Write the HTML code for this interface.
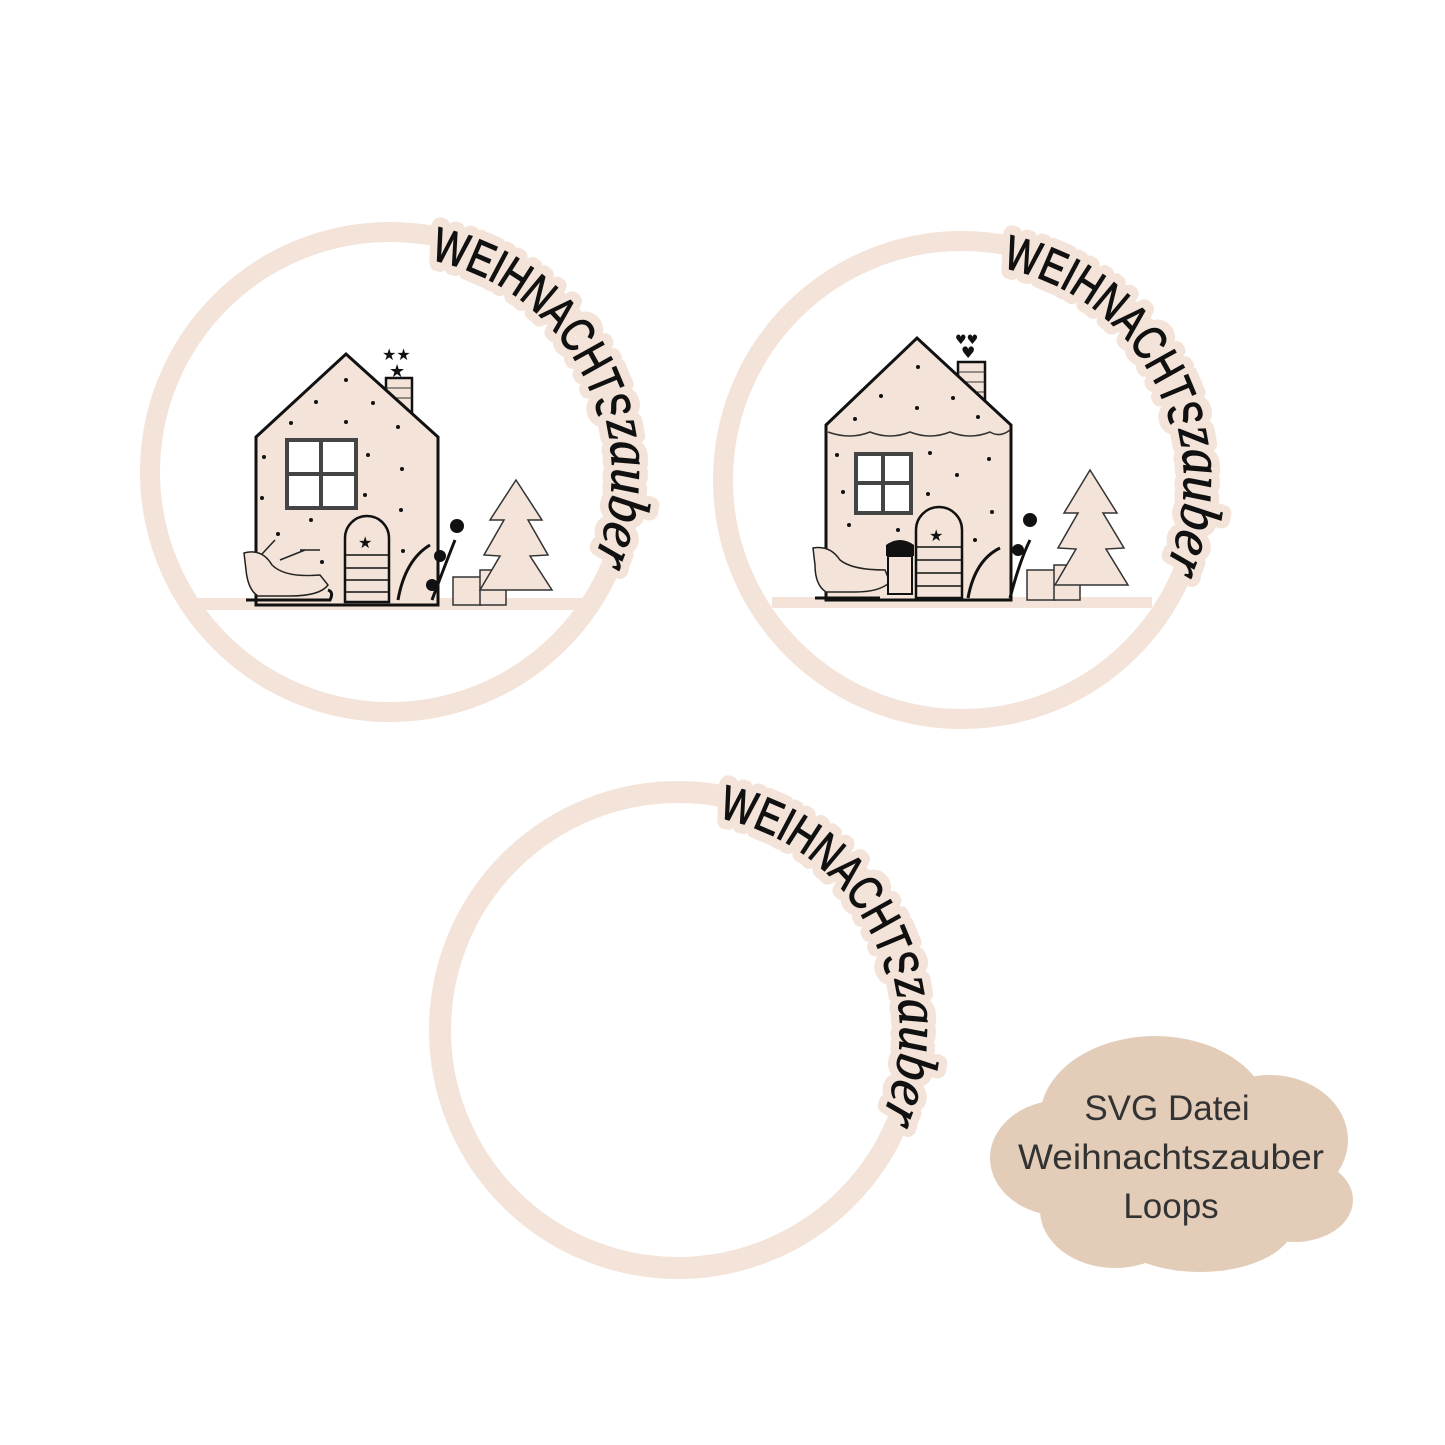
<!DOCTYPE html>
<html><head><meta charset="utf-8"><style>
html,body{margin:0;padding:0;background:#fff;}
svg{display:block;}
</style></head><body>
<svg width="1445" height="1445" viewBox="0 0 1445 1445" xmlns="http://www.w3.org/2000/svg">
<defs>
<path id="arc" d="M0,-216 A216,216 0 1 1 0,216 A216,216 0 1 1 0,-216"/>
<path id="arcz" d="M0,-222 A222,222 0 1 1 0,222 A222,222 0 1 1 0,-222"/>
<g id="label">
  <text font-family="Liberation Sans, sans-serif" font-size="48" fill="#111" stroke="#f3e3d8" stroke-width="20" stroke-linejoin="round" paint-order="stroke"><textPath href="#arc" startOffset="40" textLength="250" lengthAdjust="spacingAndGlyphs">WEIHNACHTS</textPath></text>
  <text font-family="Liberation Sans, sans-serif" font-size="48" fill="#111" stroke="#111" stroke-width="1.2"><textPath href="#arc" startOffset="40" textLength="250" lengthAdjust="spacingAndGlyphs">WEIHNACHTS</textPath></text>
  <text font-family="Liberation Serif, serif" font-style="italic" font-size="58" fill="#111" stroke="#f3e3d8" stroke-width="18" stroke-linejoin="round" paint-order="stroke"><textPath href="#arcz" startOffset="298" textLength="142" lengthAdjust="spacingAndGlyphs">zauber</textPath></text>
  <text font-family="Liberation Serif, serif" font-style="italic" font-size="58" fill="#111" stroke="#111" stroke-width="1"><textPath href="#arcz" startOffset="298" textLength="142" lengthAdjust="spacingAndGlyphs">zauber</textPath></text>
</g>
</defs>

<!-- Ring 1 -->
<circle cx="390" cy="472" r="240" fill="none" stroke="#f3e3d8" stroke-width="20"/>
<rect x="198" y="598" width="386" height="12" fill="#f3e3d8"/>
<rect x="386" y="378" width="26" height="40" fill="#f3e3d8" stroke="#111" stroke-width="2.5"/>
<line x1="386" y1="388" x2="412" y2="388" stroke="#333"/><line x1="386" y1="398" x2="412" y2="398" stroke="#333"/>
<path d="M256,437 L346,354 L438,437 L438,605 L256,605 Z" fill="#f3e3d8" stroke="#111" stroke-width="3"/>
<text x="382" y="360" font-size="16" fill="#111" font-family="DejaVu Sans">★★</text>
<text x="389" y="377" font-size="18" fill="#111" font-family="DejaVu Sans">★</text>
<rect x="287" y="440" width="69" height="68" fill="#fff" stroke="#444" stroke-width="4"/>
<line x1="321" y1="440" x2="321" y2="508" stroke="#444" stroke-width="4"/><line x1="287" y1="474" x2="356" y2="474" stroke="#444" stroke-width="4"/>
<path d="M345,602 L345,538 A22,22 0 0 1 389,538 L389,602 Z" fill="#f3e3d8" stroke="#111" stroke-width="2.5"/>
<g stroke="#111" stroke-width="1.5"><line x1="345" y1="555" x2="389" y2="555"/><line x1="345" y1="568" x2="389" y2="568"/><line x1="345" y1="580" x2="389" y2="580"/><line x1="345" y1="592" x2="389" y2="592"/></g>
<text x="358" y="548" font-size="16" fill="#111" font-family="DejaVu Sans">★</text>
<g fill="#111"><circle cx="346" cy="380" r="2"/><circle cx="316" cy="402" r="2"/><circle cx="373" cy="403" r="2"/><circle cx="291" cy="423" r="2"/><circle cx="346" cy="422" r="2"/><circle cx="398" cy="427" r="2"/><circle cx="264" cy="457" r="2"/><circle cx="368" cy="455" r="2"/><circle cx="402" cy="469" r="2"/><circle cx="262" cy="498" r="2"/><circle cx="365" cy="495" r="2"/><circle cx="401" cy="510" r="2"/><circle cx="311" cy="520" r="2"/><circle cx="278" cy="534" r="2"/><circle cx="322" cy="562" r="2"/><circle cx="403" cy="551" r="2"/></g>
<path d="M244,553 Q262,548 272,565 Q285,578 320,575 L328,585 Q320,596 290,596 L258,596 Q248,590 246,570 Z" fill="#f3e3d8" stroke="#222" stroke-width="1.5"/>
<path d="M246,600 L330,600 Q334,592 328,590" fill="none" stroke="#111" stroke-width="3"/>
<path d="M262,554 L275,540 M300,550 L320,550 M280,560 L305,550" stroke="#222" stroke-width="1.5"/>
<path d="M398,600 Q405,560 430,545 M432,600 Q445,565 455,540" fill="none" stroke="#111" stroke-width="3"/>
<circle cx="457" cy="526" r="7" fill="#111"/><circle cx="440" cy="556" r="6" fill="#111"/><circle cx="432" cy="585" r="6" fill="#111"/>
<rect x="453" y="577" width="28" height="28" fill="#f3e3d8" stroke="#333" stroke-width="1.5"/>
<rect x="480" y="570" width="26" height="35" fill="#f3e3d8" stroke="#333" stroke-width="1.5"/>
<path d="M516,480 L542,520 L528,520 L548,555 L530,556 L552,590 L480,590 L500,556 L484,555 L504,520 L490,520 Z" fill="#f3e3d8" stroke="#333" stroke-width="1.5"/>
<use href="#label" transform="translate(390,472)"/>

<!-- Ring 2 -->
<circle cx="962" cy="480" r="239" fill="none" stroke="#f3e3d8" stroke-width="20"/>
<rect x="772" y="597" width="380" height="11" fill="#f3e3d8"/>
<rect x="958" y="362" width="27" height="42" fill="#f3e3d8" stroke="#111" stroke-width="2.5"/>
<line x1="958" y1="372" x2="985" y2="372" stroke="#333"/><line x1="958" y1="382" x2="985" y2="382" stroke="#333"/><line x1="958" y1="392" x2="985" y2="392" stroke="#333"/>
<path d="M826,425 L917,338 L1011,425 L1011,600 L826,600 Z" fill="#f3e3d8" stroke="#111" stroke-width="3"/>
<text x="955" y="344" font-size="13" fill="#111" font-family="DejaVu Sans">♥♥</text>
<text x="961" y="358" font-size="16" fill="#111" font-family="DejaVu Sans">♥</text>
<path d="M828,432 Q850,440 870,432 Q890,440 910,432 Q930,440 950,432 Q970,440 990,432 Q1000,438 1010,430" fill="none" stroke="#333" stroke-width="1.5"/>
<rect x="856" y="454" width="55" height="59" fill="#fff" stroke="#444" stroke-width="4"/>
<line x1="883" y1="454" x2="883" y2="513" stroke="#444" stroke-width="4"/><line x1="856" y1="483" x2="911" y2="483" stroke="#444" stroke-width="4"/>
<path d="M916,598 L916,530 A23,23 0 0 1 962,530 L962,598 Z" fill="#f3e3d8" stroke="#111" stroke-width="2.5"/>
<g stroke="#111" stroke-width="1.5"><line x1="916" y1="547" x2="962" y2="547"/><line x1="916" y1="560" x2="962" y2="560"/><line x1="916" y1="573" x2="962" y2="573"/><line x1="916" y1="586" x2="962" y2="586"/></g>
<text x="929" y="541" font-size="16" fill="#111" font-family="DejaVu Sans">★</text>
<g fill="#111"><circle cx="918" cy="367" r="2"/><circle cx="881" cy="396" r="2"/><circle cx="953" cy="398" r="2"/><circle cx="917" cy="408" r="2"/><circle cx="855" cy="419" r="2"/><circle cx="978" cy="417" r="2"/><circle cx="837" cy="455" r="2"/><circle cx="930" cy="453" r="2"/><circle cx="989" cy="459" r="2"/><circle cx="957" cy="475" r="2"/><circle cx="843" cy="492" r="2"/><circle cx="928" cy="494" r="2"/><circle cx="992" cy="512" r="2"/><circle cx="849" cy="525" r="2"/><circle cx="898" cy="530" r="2"/><circle cx="975" cy="540" r="2"/></g>
<path d="M813,548 Q830,545 840,560 Q852,570 885,570 L890,582 Q880,592 855,592 L826,592 Q815,585 815,565 Z" fill="#f3e3d8" stroke="#222" stroke-width="1.5"/>
<path d="M815,598 L880,598" stroke="#111" stroke-width="3"/>
<path d="M886,545 Q900,535 914,545 L914,556 L886,556 Z" fill="#111"/>
<rect x="888" y="556" width="24" height="38" fill="#f3e3d8" stroke="#111" stroke-width="2"/>
<path d="M968,598 Q975,560 1000,548 M1010,598 Q1020,560 1030,540" fill="none" stroke="#111" stroke-width="3"/>
<circle cx="1030" cy="520" r="7" fill="#111"/><circle cx="1018" cy="550" r="6" fill="#111"/>
<rect x="1027" y="570" width="28" height="30" fill="#f3e3d8" stroke="#333" stroke-width="1.5"/>
<rect x="1054" y="565" width="26" height="35" fill="#f3e3d8" stroke="#333" stroke-width="1.5"/>
<path d="M1090,470 L1117,513 L1103,513 L1124,548 L1106,549 L1128,585 L1055,585 L1076,549 L1058,548 L1078,513 L1064,513 Z" fill="#f3e3d8" stroke="#333" stroke-width="1.5"/>
<use href="#label" transform="translate(962,480)"/>

<!-- Ring 3 -->
<circle cx="678" cy="1030" r="238" fill="none" stroke="#f3e3d8" stroke-width="22"/>
<use href="#label" transform="translate(678,1030)"/>

<!-- Cloud -->
<g fill="#e3cdb9">
  <ellipse cx="1155" cy="1118" rx="115" ry="82"/>
  <ellipse cx="1270" cy="1140" rx="78" ry="65"/>
  <ellipse cx="1062" cy="1158" rx="72" ry="58"/>
  <ellipse cx="1295" cy="1200" rx="58" ry="42"/>
  <ellipse cx="1115" cy="1210" rx="75" ry="58"/>
  <ellipse cx="1200" cy="1222" rx="95" ry="50"/>
  <rect x="1050" y="1110" width="250" height="110"/>
</g>
<g font-family="Liberation Sans, sans-serif" font-size="35" fill="#333" text-anchor="middle">
  <text x="1167" y="1120">SVG Datei</text>
  <text x="1171" y="1169" textLength="306" lengthAdjust="spacingAndGlyphs">Weihnachtszauber</text>
  <text x="1171" y="1218">Loops</text>
</g>
</svg>
</body></html>
